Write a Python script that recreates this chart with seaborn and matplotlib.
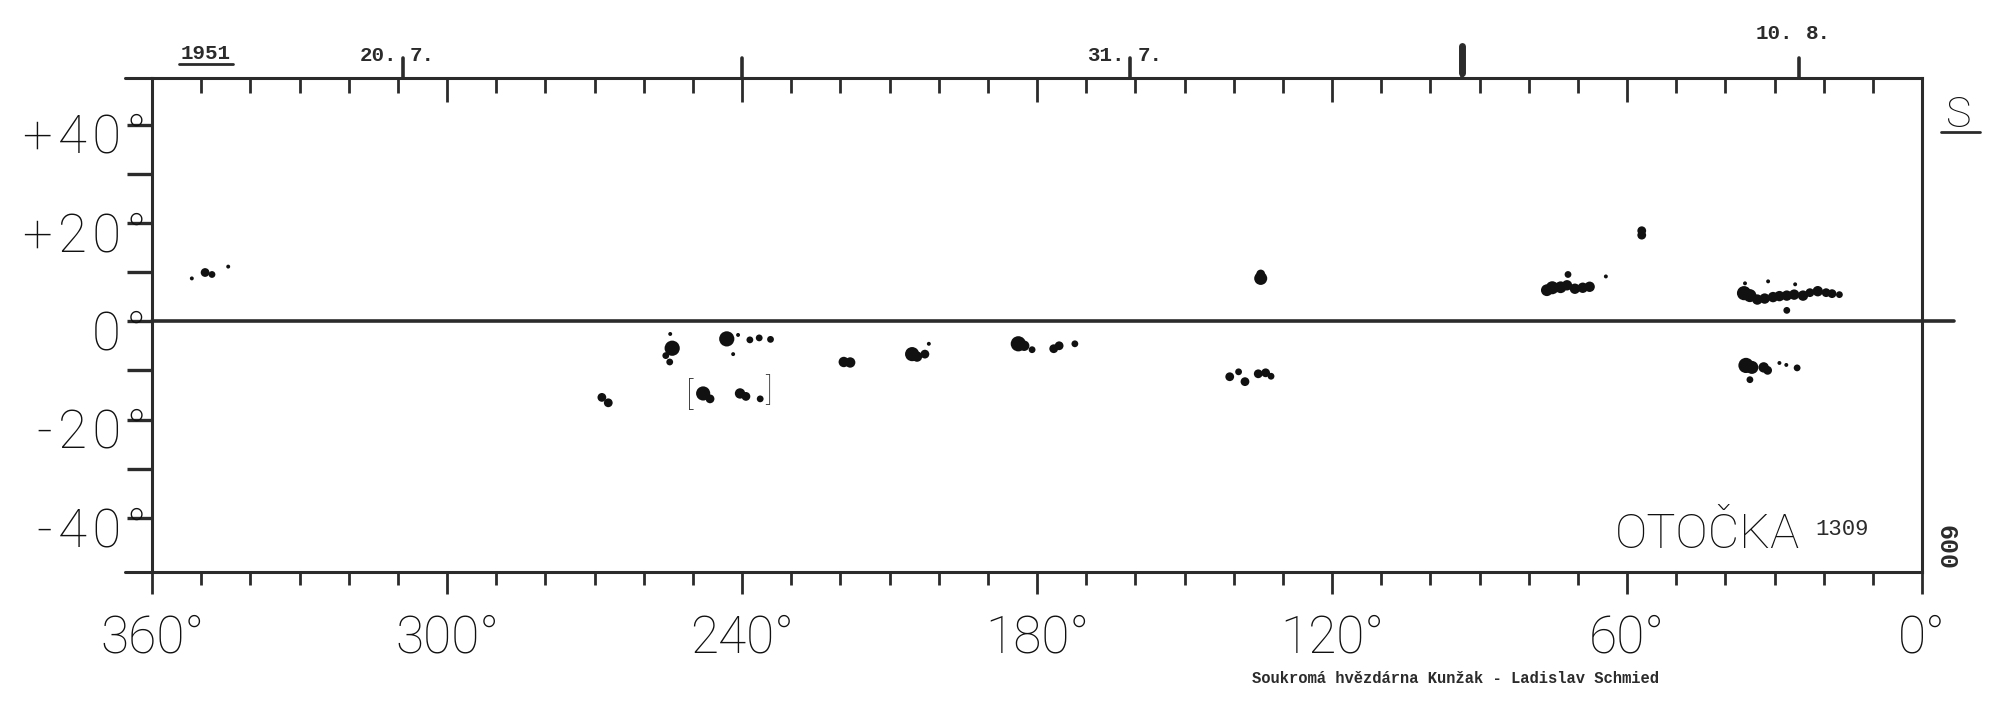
import matplotlib
matplotlib.use("Agg")
import matplotlib.pyplot as plt
import matplotlib.transforms as mtrans
import pandas as pd
import seaborn as sns

# sunspot positions (Carrington longitude, latitude, relative area)
spot_lon = [351.9, 349.2, 347.8, 344.5,
            268.5, 267.2,
            254.2, 255.5, 254.7, 254.6,
            243.1, 240.8, 238.4, 236.5, 234.2, 241.8,
            247.9, 246.5, 240.4, 239.2, 236.3,
            219.3, 218.0,
            205.4, 204.4, 202.8, 202.0,
            183.8, 182.6, 181.0, 176.6, 175.5, 172.3,
            140.8, 139.0, 137.7, 135.0, 133.5, 132.4,
            134.5, 134.5,
            76.3, 75.2, 73.5, 72.2, 70.6, 69.0, 67.6, 72.0, 64.3,
            57.0, 57.0,
            36.2, 35.0, 33.5, 32.0, 30.3, 29.0, 27.5, 26.0, 24.2, 22.8, 21.2, 19.5, 18.3, 16.8,
            36.0, 31.3, 25.8, 27.5,
            35.8, 34.6, 32.2, 31.4, 29.0, 27.6, 25.4, 35.0]
spot_lat = [8.7, 9.9, 9.5, 11.1,
            -15.5, -16.6,
            -5.5, -7.0, -8.3, -2.6,
            -3.6, -2.8, -3.8, -3.4, -3.7, -6.7,
            -14.7, -15.8, -14.7, -15.3, -15.8,
            -8.3, -8.4,
            -6.7, -7.2, -6.7, -4.6,
            -4.6, -5.0, -5.8, -5.6, -5.0, -4.6,
            -11.3, -10.3, -12.3, -10.7, -10.5, -11.2,
            8.7, 9.6,
            6.3, 6.8, 6.9, 7.3, 6.6, 6.8, 7.0, 9.5, 9.1,
            17.5, 18.4,
            5.7, 5.2, 4.4, 4.6, 4.9, 5.1, 5.2, 5.4, 5.2, 5.8, 6.1, 5.8, 5.6, 5.4,
            7.7, 8.1, 7.5, 2.2,
            -9.0, -9.4, -9.4, -10.0, -8.5, -8.9, -9.5, -11.9]
spot_area = [1, 3, 2, 1,
             3, 3,
             8, 2, 2, 1,
             8, 1, 2, 2, 2, 1,
             7, 3, 4, 3, 2,
             4, 4,
             7, 4, 3, 1,
             8, 4, 2, 3, 3, 2,
             3, 2, 3, 3, 3, 2,
             6, 3,
             5, 6, 5, 4, 4, 4, 4, 2, 1,
             3, 3,
             7, 6, 4, 4, 4, 4, 4, 4, 4, 3, 4, 3, 3, 2,
             1, 1, 1, 2,
             8, 6, 4, 3, 1, 1, 2, 2]

lon_ticks = [360, 300, 240, 180, 120, 60, 0]
lon_labels = ["360°", "300°", "240°", "180°", "120°", "60°", "0°"]
lat_ticks = [40, 20, 0, -20, -40]
lat_labels = ["+40°", "+20°", "0°", "-20°", "-40°"]

# day marks on the top edge (longitude, left part, right part)
date_lon = [309, 161, 25]
date_left = ["20.", "31.", "10."]
date_right = ["7.", "7.", "8."]
plain_marks = [240, 93.5]

df = pd.DataFrame({"lon": spot_lon, "lat": spot_lat, "area": spot_area})

sns.set_style("white")
plt.rcParams["font.family"] = ["Roboto", "DejaVu Sans"]
ink = "#2b2b2b"
txt = "#111111"
mono_family = ["Liberation Mono", "DejaVu Sans Mono"]

fig = plt.figure(figsize=(20, 7.14), dpi=100)
ax = fig.add_axes([0.076, 0.199, 0.885, 0.692])

sns.scatterplot(data=df, x="lon", y="lat", size="area", sizes=(8, 120),
                color="#111111", edgecolor="none", legend=False, ax=ax)

ax.set_xlim(360, 0)
ax.set_ylim(-51, 49.5)
ax.set_xlabel("")
ax.set_ylabel("")

for sp in ax.spines.values():
    sp.set_visible(True)
    sp.set_color(ink)
    sp.set_linewidth(2.2)

# equator line, running past the right edge
ax.plot([360, -6.5], [0, 0], color=ink, lw=2.6, clip_on=False)
# edges sticking out to the left
ax.plot([365.5, 360], [49.5, 49.5], color=ink, lw=2.2, clip_on=False)
ax.plot([365.5, 360], [-51, -51], color=ink, lw=2.2, clip_on=False)

# longitude ticks: bottom outward, top inward
ax.set_xticks(lon_ticks)
ax.set_xticklabels(lon_labels, fontsize=37, fontweight="light", color=txt)
ax.set_xticks(range(0, 361, 10), minor=True)
ax.tick_params(axis="x", which="major", direction="out", length=16, width=2,
               color=ink, pad=14, bottom=True, top=False)
ax.tick_params(axis="x", which="minor", direction="out", length=9, width=2,
               color=ink, bottom=True, top=False)
sec = ax.secondary_xaxis("top")
sec.set_xticks(lon_ticks)
sec.set_xticks(range(0, 361, 10), minor=True)
sec.set_xticklabels([])
sec.tick_params(which="major", direction="in", length=17, width=2, color=ink)
sec.tick_params(which="minor", direction="in", length=11, width=2, color=ink)
sec.spines["top"].set_visible(False)

# latitude ticks on the left, letters drawn a little apart
ax.set_yticks(lat_ticks)
ax.set_yticklabels(["\u200a".join(s) for s in lat_labels], fontsize=38,
                   fontweight="light", color=txt)
ax.set_yticks(range(-40, 41, 10), minor=True)
ax.tick_params(axis="y", which="both", direction="out", length=18, width=2.4,
               color=ink, pad=-14, left=True, right=False)
shift = mtrans.ScaledTranslation(0, -0.08, fig.dpi_scale_trans)
for lab in ax.get_yticklabels():
    lab.set_transform(lab.get_transform() + shift)

# marks and dates above the top edge
for lon in date_lon + plain_marks:
    ax.plot([lon, lon], [49.5, 53.5], color=ink, lw=2.6, clip_on=False)
ax.plot([93.5, 93.5], [50.5, 56.0], color=ink, lw=5, clip_on=False,
        solid_capstyle="round")
mono = dict(family=mono_family, fontweight="bold", fontsize=15, color=ink,
            va="center", clip_on=False)
for lon, left, right in zip(date_lon, date_left, date_right):
    ytxt = 58.5 if lon == 25 else 54
    ax.text(lon + 1.2, ytxt, left, ha="right", **mono)
    ax.text(lon - 1.4, ytxt, right, ha="left", **mono)
ax.text(349, 54.5, "1951", ha="center", **mono)
ax.plot([354.5, 343.5], [52.4, 52.4], color=ink, lw=2, clip_on=False)

# bracket around one group
ax.text(250.6, -15.3, "[", fontsize=24, fontweight="light", color=ink,
        ha="center", va="center")
ax.text(234.7, -14.2, "]", fontsize=22, fontweight="light", color=ink,
        ha="center", va="center")

# labels at the right
ax.text(-7.5, 41.8, "S", fontsize=31, fontweight="light", color=txt,
        ha="center", va="center", clip_on=False)
ax.plot([-3.8, -11.8], [38.4, 38.4], color=ink, lw=2, clip_on=False)
ax.text(-4.7, -46, "600", family=mono_family, fontweight="bold", fontsize=18,
        rotation=-90, color=ink, ha="center", va="center", clip_on=False)
ax.text(43.7, -43.5, "OTOČKA", fontsize=35, fontweight="light",
        color=txt, ha="center", va="center")
ax.text(16.3, -42.3, "1309", family=mono_family, fontsize=16, color=ink,
        ha="center", va="center")

fig.text(0.728, 0.05, "Soukromá hvězdárna Kunžak - Ladislav Schmied",
         family=mono_family, fontweight="bold", fontsize=11.2, color=ink,
         ha="center", va="center")

fig.savefig("out.png", dpi=100, facecolor="white")
